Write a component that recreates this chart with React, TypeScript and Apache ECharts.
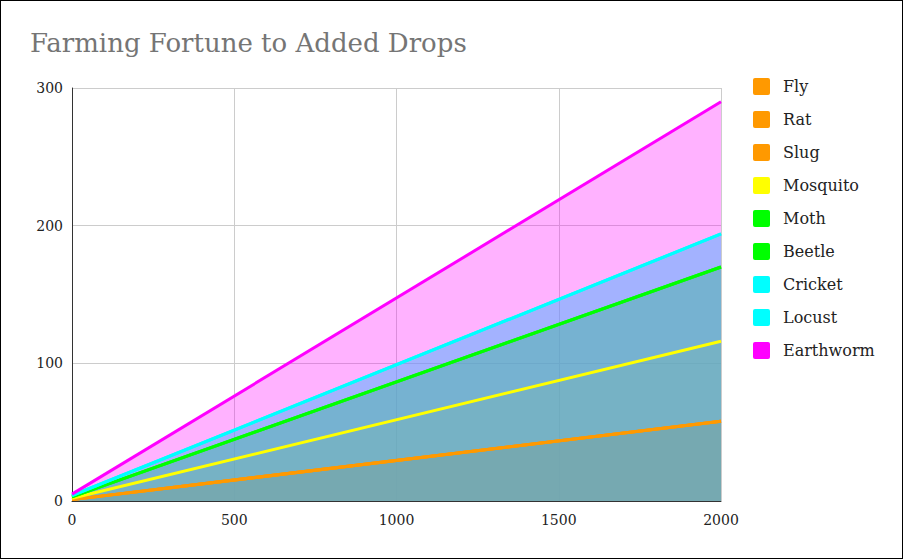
import React, { useEffect, useRef } from "react";
import * as echarts from "echarts";

const xValues = [0, 2000];
const seriesNames = ["Fly", "Rat", "Slug", "Mosquito", "Moth", "Beetle", "Cricket", "Locust", "Earthworm"];
const seriesColors = ["#ff9900", "#ff9900", "#ff9900", "#ffff00", "#00ff00", "#00ff00", "#00ffff", "#00ffff", "#ff00ff"];
const seriesValues = [
  [1, 58],
  [1, 58],
  [1, 58],
  [2, 116],
  [3, 170],
  [3, 170],
  [4, 194],
  [4, 194],
  [5, 290],
];
const xTicks = [0, 500, 1000, 1500, 2000];
const yTicks = [0, 100, 200, 300];

const FONT = "DejaVu Serif";

export default function App() {
  const ref = useRef<HTMLDivElement>(null);
  useEffect(() => {
    if (!ref.current) return;
    const chart = echarts.init(ref.current, undefined, { renderer: "svg" });
    chart.setOption({
      animation: false,
      backgroundColor: "#ffffff",
      title: {
        text: "Farming Fortune to Added Drops",
        left: 24,
        top: 24,
        textStyle: { fontFamily: FONT, fontSize: 26, fontWeight: "normal", color: "#757575" },
      },
      legend: {
        orient: "vertical",
        left: 752,
        top: 77,
        padding: 0,
        itemWidth: 17,
        itemHeight: 17,
        itemGap: 16,
        icon: "path://M2,0 L15,0 Q17,0 17,2 L17,15 Q17,17 15,17 L2,17 Q0,17 0,15 L0,2 Q0,0 2,0 Z",
        textStyle: { fontFamily: FONT, fontSize: 16, color: "#222222", padding: [0, 0, 0, 8] },
        data: seriesNames,
      },
      grid: { left: 71, right: 181, top: 87, bottom: 57, containLabel: false },
      xAxis: {
        type: "value",
        min: xTicks[0],
        max: xTicks[xTicks.length - 1],
        interval: 500,
        axisLine: { show: true, lineStyle: { color: "#333333", width: 1 } },
        axisTick: { show: false },
        axisLabel: { fontFamily: FONT, fontSize: 14, color: "#222222", margin: 12, formatter: (v: number) => String(v) },
        splitLine: { show: true, lineStyle: { color: "#cccccc" } },
      },
      yAxis: {
        type: "value",
        min: yTicks[0],
        max: yTicks[yTicks.length - 1],
        interval: 100,
        axisLine: { show: true, lineStyle: { color: "#333333", width: 1 } },
        axisTick: { show: false },
        axisLabel: { fontFamily: FONT, fontSize: 14, color: "#222222", margin: 9, formatter: (v: number) => String(v) },
        splitLine: { show: true, lineStyle: { color: "#cccccc" } },
      },
      series: seriesNames.map((name, i) => ({
        name,
        type: "line",
        color: seriesColors[i],
        data: xValues.map((x, j) => [x, seriesValues[i][j]]),
        showSymbol: false,
        symbol: "none",
        lineStyle: { width: 3, color: seriesColors[i] },
        areaStyle: { color: seriesColors[i], opacity: 0.3 },
        itemStyle: { color: seriesColors[i] },
      })),
    });
    return () => chart.dispose();
  }, []);
  return (
    <div
      ref={ref}
      style={{
        position: "fixed",
        left: 0,
        top: 0,
        width: 903,
        height: 559,
        boxSizing: "border-box",
        border: "1px solid #000",
      }}
    />
  );
}
